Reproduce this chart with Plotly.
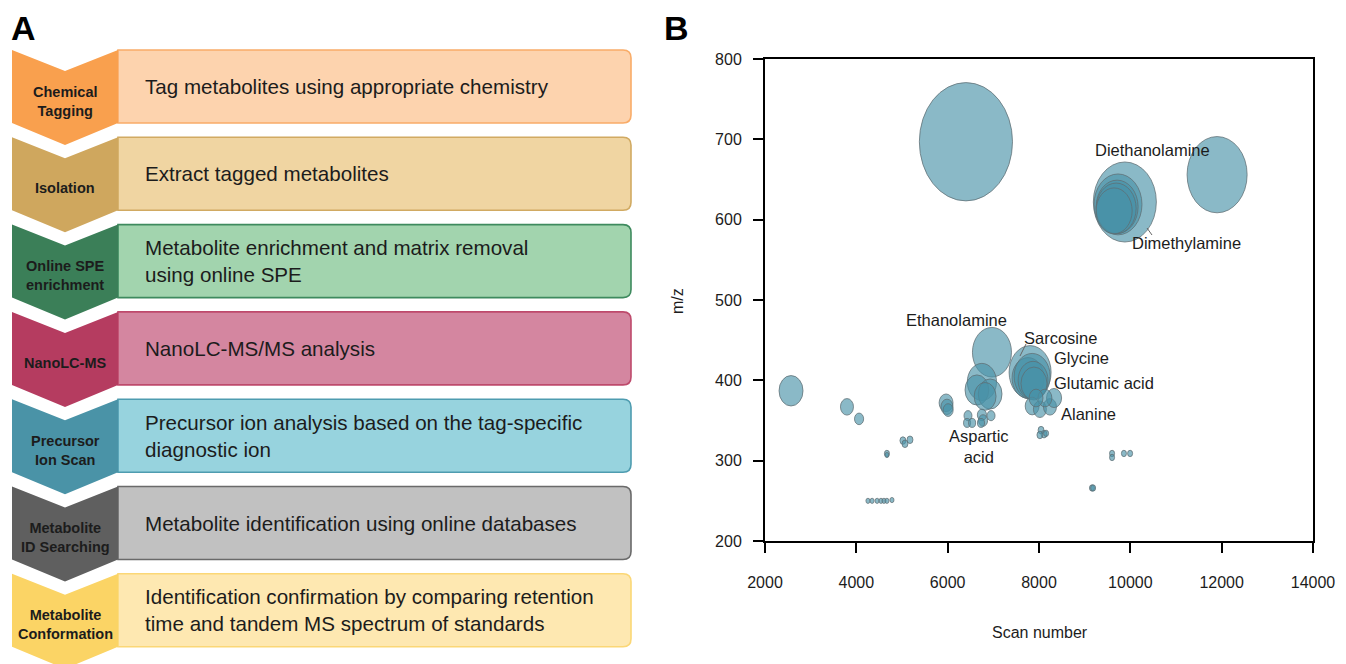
import plotly.graph_objects as go

W, H = 1346, 664
FONT = "Arial, Liberation Sans, sans-serif"

# ---------------- Panel A data ----------------
step_titles = ["Chemical<br>Tagging", "Isolation", "Online SPE<br>enrichment", "NanoLC-MS",
               "Precursor<br>Ion Scan", "Metabolite<br>ID Searching", "Metabolite<br>Conformation"]
step_texts = ["Tag metabolites using appropriate chemistry",
              "Extract tagged metabolites",
              "Metabolite enrichment and matrix removal<br>using online SPE",
              "NanoLC-MS/MS analysis",
              "Precursor ion analysis based on the tag-specific<br>diagnostic ion",
              "Metabolite identification using online databases",
              "Identification confirmation by comparing retention<br>time and tandem MS spectrum of standards"]
chevron_colors = ["#F9A04E", "#CFA75E", "#3B7F58", "#B53C60", "#4A93A7", "#5F5F5F", "#FBD465"]
box_fills = ["#FDD3AE", "#F0D5A2", "#A2D4AE", "#D486A0", "#97D3DE", "#C1C1C1", "#FEE8B1"]
box_lines = ["#F9AC68", "#D1AA62", "#3E8A5E", "#BE4A6C", "#4E9CB0", "#6A6A6A", "#FBD776"]

# ---------------- Panel B data ----------------
scan = [6400, 11900, 9880, 9730, 9710, 9690, 9645,
        6970, 6750, 6640, 6930, 6820,
        7805, 7760, 7850, 7870, 7890,
        7850, 8020, 8240, 8330, 8130, 7935,
        8045, 8110, 8020, 8155,
        9600, 9600, 9860, 9995, 9160, 9185,
        2570, 3795, 4060, 5020, 5065, 5175, 4670, 4670,
        4255, 4345, 4455, 4540, 4605, 4670, 4780,
        5965, 5985, 6010,
        6445, 6425, 6535, 6750, 6775, 6730, 6950]
mz = [697, 656, 622, 619, 616, 614, 611,
      435, 398, 388, 383, 380,
      410, 403, 405, 400, 396,
      368, 364, 367, 378, 378, 378,
      338, 333, 332, 334,
      309, 304, 309, 309, 266, 266,
      387, 367, 352, 325, 321, 326, 309, 307,
      250, 250, 250, 250, 250, 250, 251,
      372, 367, 363,
      356, 347, 347, 357, 350, 347, 356]
bubble = [2040, 1315, 1380, 1050, 920, 875, 790,
          855, 640, 520, 520, 480,
          920, 700, 790, 655, 570,
          305, 285, 285, 330, 305, 305,
          130, 130, 130, 110,
          110, 110, 110, 110, 110, 110,
          525, 285, 200, 130, 130, 130, 110, 90,
          90, 90, 90, 90, 90, 90, 90,
          305, 265, 220,
          175, 155, 155, 200, 200, 155, 175]

label_names = ["Diethanolamine", "Dimethylamine", "Ethanolamine", "Sarcosine", "Glycine",
               "Glutamic acid", "Alanine", "Aspartic<br>acid"]
label_scan = [10475, 11240, 6185, 8460, 8920, 9425, 9075, 6690]
label_mz = [687, 571, 475, 453, 428, 397, 358, 318]

x_ticks = [2000, 4000, 6000, 8000, 10000, 12000, 14000]
y_ticks = [200, 300, 400, 500, 600, 700, 800]

# ---------------- layout geometry ----------------
X0, X1 = 2000, 14000
Y0, Y1 = 200, 800
PX_L, PX_R, PX_T, PX_B = 765, 1313, 59, 541
px_per_scan = (PX_R - PX_L) / (X1 - X0)
px_per_mz = (PX_B - PX_T) / (Y1 - Y0)
STRETCH = 1.27  # bubbles appear as upright ellipses

ROW_TOP0, ROW_STEP, ROW_H = 50, 87.3, 73
CH_L, CH_R, BOX_R = 12, 118, 631
NOTCH, POINT, RAD = 21, 22, 8
CH_MID = (CH_L + CH_R) / 2
TXT = "#1c1c1c"

shapes = []
annotations = []

for i in range(len(step_titles)):
    t = ROW_TOP0 + i * ROW_STEP
    b = t + ROW_H
    box = (f"M {CH_R},{t} L {BOX_R-RAD},{t} Q {BOX_R},{t} {BOX_R},{t+RAD} "
           f"L {BOX_R},{b-RAD} Q {BOX_R},{b} {BOX_R-RAD},{b} L {CH_R},{b} Z")
    shapes.append(dict(type="path", path=box, xref="x2", yref="y2", layer="below",
                       fillcolor=box_fills[i], line=dict(color=box_lines[i], width=1.6)))
    chev = (f"M {CH_L},{t} L {CH_MID},{t+NOTCH} L {CH_R},{t} L {CH_R},{b} "
            f"L {CH_MID},{b+POINT} L {CH_L},{b} Z")
    shapes.append(dict(type="path", path=chev, xref="x2", yref="y2", layer="below",
                       fillcolor=chevron_colors[i], line=dict(width=0)))
    annotations.append(dict(x=CH_MID, y=t + 51, xref="x2", yref="y2", text=step_titles[i],
                            showarrow=False, xanchor="center", yanchor="middle", align="center",
                            font=dict(family=FONT, size=14.5, color=TXT, weight="bold")))
    annotations.append(dict(x=143, y=(t + b) / 2, xref="x2", yref="y2", text=step_texts[i],
                            showarrow=False, xanchor="left", yanchor="middle", align="left",
                            font=dict(family=FONT, size=20.6, color=TXT)))

# bubbles as ellipses in data coordinates
for sx, my, bw in zip(scan, mz, bubble):
    hh = bw * px_per_scan * STRETCH / px_per_mz
    shapes.append(dict(type="circle", xref="x", yref="y",
                       x0=sx - bw / 2, x1=sx + bw / 2, y0=my - hh / 2, y1=my + hh / 2,
                       fillcolor="rgba(72,146,168,0.64)",
                       line=dict(color="rgba(95,110,115,0.75)", width=1)))

# leader lines
shapes.append(dict(type="line", xref="x2", yref="y2", x0=1147, y0=228, x1=1152, y1=235,
                   line=dict(color="#666", width=1)))
shapes.append(dict(type="line", xref="x2", yref="y2", x0=1026, y0=344, x1=1020, y1=356,
                   line=dict(color="#666", width=1)))

for name, sx, my in zip(label_names, label_scan, label_mz):
    annotations.append(dict(x=sx, y=my, xref="x", yref="y", text=name, showarrow=False,
                            xanchor="center", yanchor="middle", align="center",
                            font=dict(family=FONT, size=16.5, color=TXT)))

# panel letters & axis titles
annotations.append(dict(x=23, y=28, xref="x2", yref="y2", text="A", showarrow=False,
                        font=dict(family=FONT, size=34, color="black", weight="bold")))
annotations.append(dict(x=676, y=28, xref="x2", yref="y2", text="B", showarrow=False,
                        font=dict(family=FONT, size=34, color="black", weight="bold")))
annotations.append(dict(x=1040, y=632, xref="x2", yref="y2", text="Scan number", showarrow=False,
                        font=dict(family=FONT, size=16, color=TXT)))
annotations.append(dict(x=677, y=301, xref="x2", yref="y2", text="m/z", showarrow=False,
                        textangle=-90, font=dict(family=FONT, size=16, color=TXT)))

fig = go.Figure()
fig.add_trace(go.Scatter(x=scan, y=mz, mode="markers", marker=dict(size=1, opacity=0),
                         hoverinfo="x+y", showlegend=False, xaxis="x", yaxis="y"))
fig.add_trace(go.Scatter(x=[None], y=[None], mode="markers", showlegend=False,
                         hoverinfo="skip", xaxis="x2", yaxis="y2"))

axis_common = dict(showline=True, mirror=True, linecolor="black", linewidth=2,
                   ticks="outside", ticklen=10, tickwidth=2, tickcolor="black",
                   showgrid=False, zeroline=False, tickformat="d", automargin=False,
                   tickfont=dict(family=FONT, size=16, color=TXT))

fig.update_layout(
    width=W, height=H,
    margin=dict(l=0, r=0, t=0, b=0, pad=0, autoexpand=False),
    paper_bgcolor="white", plot_bgcolor="rgba(0,0,0,0)",
    showlegend=False,
    xaxis=dict(domain=[PX_L / W, PX_R / W], range=[X0, X1], tickvals=x_ticks,
               anchor="y", ticklabelstandoff=16, **axis_common),
    yaxis=dict(domain=[(H - PX_B) / H, (H - PX_T) / H], range=[Y0, Y1], tickvals=y_ticks,
               anchor="x", ticklabelstandoff=8, **axis_common),
    xaxis2=dict(domain=[0, 1], range=[0, W], visible=False, anchor="y2", fixedrange=True),
    yaxis2=dict(domain=[0, 1], range=[H, 0], visible=False, anchor="x2", fixedrange=True),
    shapes=shapes,
    annotations=annotations,
)

fig.write_html("out.html", config={"displayModeBar": False},
               post_script="document.body.style.margin='0';document.body.style.overflow='hidden';")
